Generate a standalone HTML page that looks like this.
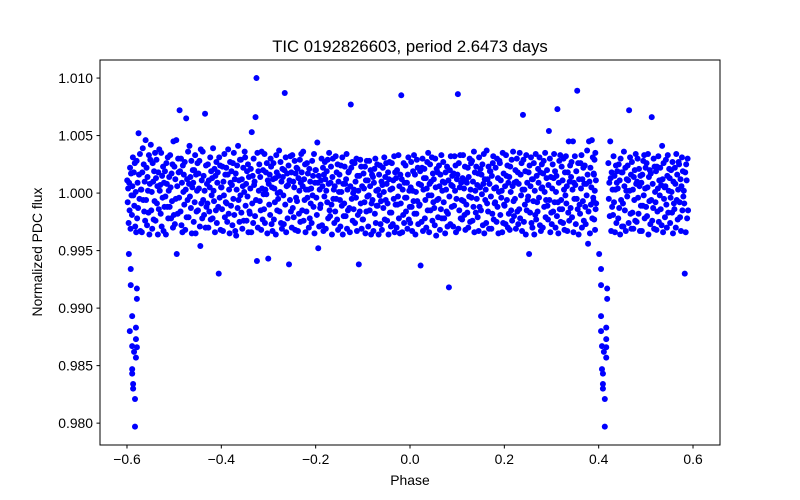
<!DOCTYPE html>
<html><head><meta charset="utf-8"><style>
html,body{margin:0;padding:0;background:#fff;}
svg{display:block;font-family:"Liberation Sans","DejaVu Sans",sans-serif;}
</style></head><body>
<svg id="chart" width="800" height="500" viewBox="0 0 800 500" xmlns="http://www.w3.org/2000/svg">
<rect x="0" y="0" width="800" height="500" fill="#fff"/>
<text x="410" y="52" text-anchor="middle" font-size="16.7" fill="#000">TIC 0192826603, period 2.6473 days</text>
<g id="points"></g>
<g id="xticks"></g>
<g id="yticks"></g>
<rect x="100" y="60" width="620" height="385" fill="none" stroke="#000" stroke-width="1"/>
<text x="410" y="485" text-anchor="middle" font-size="13.9" fill="#000">Phase</text>
<text x="0" y="0" transform="translate(42,252) rotate(-90)" text-anchor="middle" font-size="13.9" fill="#000">Normalized PDC flux</text>
</svg>
<script>
const xTicks = [-0.6,-0.4,-0.2,0.0,0.2,0.4,0.6];
const xTickLabels = ["\u22120.6","\u22120.4","\u22120.2","0.0","0.2","0.4","0.6"];
const yTicks = [0.980,0.985,0.990,0.995,1.000,1.005,1.010];
const yTickLabels = ["0.980","0.985","0.990","0.995","1.000","1.005","1.010"];
// phase bin centres (width 0.01)
const binPhase = [
-.595,-.585,-.575,-.565,-.555,-.545,-.535,-.525,-.515,-.505,
-.495,-.485,-.475,-.465,-.455,-.445,-.435,-.425,-.415,-.405,
-.395,-.385,-.375,-.365,-.355,-.345,-.335,-.325,-.315,-.305,
-.295,-.285,-.275,-.265,-.255,-.245,-.235,-.225,-.215,-.205,
-.195,-.185,-.175,-.165,-.155,-.145,-.135,-.125,-.115,-.105,
-.095,-.085,-.075,-.065,-.055,-.045,-.035,-.025,-.015,-.005,
.005,.015,.025,.035,.045,.055,.065,.075,.085,.095,
.105,.115,.125,.135,.145,.155,.165,.175,.185,.195,
.205,.215,.225,.235,.245,.255,.265,.275,.285,.295,
.305,.315,.325,.335,.345,.355,.365,.375,.385,.392,
.425,.435,.445,.455,.465,.475,.485,.495,.505,.515,
.525,.535,.545,.555,.565,.575,.585,.594
];
// flux deviation (parts per thousand) of points in each bin
const binFluxPpt = [
[1.1,-0.8,0.4,-2.6,0.9,-1.5,2.2,-3.1,1.7,-0.2],
[-1.9,0.6,3.1,-0.2,1.8,-1.1,2.6,-2.9,0.1,-3.4],
[2.8,-2.2,0.9,-1.3,5.2,1.6,-0.5,3.4,-3.3,0.3],
[0.3,-3.4,1.8,3.9,-0.6,2.5,-1.6,1.0,-2.4,4.6],
[-0.6,2.2,-2.8,1.4,0.2,-1.7,3.3,-3.6,0.8,2.9],
[4.2,-1.5,0.1,-3.1,2.6,1.0,-2.3,1.9,-0.7,3.5],
[-2.4,1.3,2.9,-0.9,0.6,-3.6,1.8,-1.4,3.8,0.2],
[0.7,-1.8,3.5,-2.9,1.5,-0.4,2.3,-3.3,0.9,-1.2],
[1.9,-0.3,-3.6,2.6,0.8,-1.2,3.1,-2.2,0.2,1.4],
[-1.2,3.3,0.5,-2.2,1.7,-0.7,2.5,-3.0,4.5,-1.9],
[2.3,-2.7,1.2,-0.5,4.6,-5.3,0.6,-1.8,3.0,1.8],
[-0.4,7.2,1.9,-1.6,3.0,-2.8,0.9,-3.4,2.4,0.1],
[1.6,-1.0,2.7,-3.2,0.3,6.5,-2.1,1.2,-0.6,3.6],
[-2.1,0.8,4.1,-0.3,1.4,-1.3,2.8,-3.5,0.5,2.0],
[0.9,-2.5,2.0,-0.8,3.3,-3.5,1.6,-1.6,0.2,2.6],
[-1.5,1.7,0.4,2.8,-2.9,-4.6,3.8,-0.9,1.1,-2.2],
[3.6,-0.6,1.5,-1.9,0.2,6.9,-3.0,2.4,-1.2,0.8],
[-0.9,2.5,-3.0,1.1,-1.6,0.5,3.1,-2.3,1.9,-0.2],
[1.3,-2.2,3.9,0.2,-0.7,2.1,-3.4,1.5,-1.5,2.7],
[-2.6,0.9,1.8,-1.2,-7.0,3.1,-0.4,2.4,-3.2,0.5],
[0.5,-1.4,2.3,-3.3,1.0,-0.2,3.4,-2.1,1.6,-0.8],
[2.2,-0.9,-2.5,1.6,3.8,-1.8,0.3,-3.5,2.7,0.9],
[-1.1,1.9,0.7,-2.8,2.6,-0.5,3.5,-1.9,1.2,-3.3],
[1.7,-3.7,0.3,2.4,-1.3,4.1,-0.6,1.1,-2.5,2.9],
[-0.2,2.9,-1.7,1.2,-3.1,0.6,2.2,-2.4,0.1,3.6],
[3.1,-1.1,0.8,-2.4,1.9,-0.3,2.5,-3.4,1.4,-1.6],
[-1.8,0.4,2.1,-3.4,5.3,-0.9,1.5,-2.6,3.0,0.7],
[1.0,-2.0,6.6,-0.6,10.0,-5.9,3.5,-3.0,1.9,0.2],
[2.5,-0.7,1.4,-1.5,-3.2,3.6,0.4,-2.3,2.0,-0.1],
[-1.4,3.4,-2.6,0.3,1.8,-0.1,2.6,-3.5,1.1,-5.7],
[0.8,-1.0,1.6,-1.9,3.0,2.3,-2.7,0.5,-3.3,1.2],
[2.6,-2.3,0.4,-0.8,1.3,-3.6,3.3,1.8,-1.5,0.0],
[-0.5,1.5,3.7,-1.6,0.1,2.7,-2.6,1.0,-3.1,2.1],
[1.4,-0.2,-2.7,2.0,8.7,-1.0,3.1,-3.4,0.6,1.7],
[-2.2,0.7,2.4,-6.2,1.1,-0.6,3.2,-1.6,1.8,-3.0],
[3.3,-1.3,1.0,-2.1,0.5,2.8,-3.2,1.7,-0.4,2.2],
[-0.7,2.1,-3.3,1.3,-1.8,0.2,2.9,-2.5,0.9,3.4],
[1.8,-1.5,0.6,3.6,-2.4,1.2,-0.6,2.5,-3.4,0.3],
[-1.6,2.6,-0.4,1.7,0.3,-3.0,2.1,-2.2,1.0,-0.9],
[0.4,-2.6,2.8,-0.2,1.5,-1.2,3.4,-3.5,0.9,2.0],
[2.0,-0.4,-1.9,4.4,0.9,-4.8,1.5,-2.9,0.3,-1.3],
[-1.0,1.1,3.0,-2.8,0.6,2.2,-3.3,1.6,-0.3,2.7],
[1.2,-3.1,0.2,1.9,-0.8,2.9,-2.2,0.8,3.5,-1.5],
[-2.0,0.9,2.3,-1.0,-3.6,1.4,3.0,-0.5,0.3,-2.6],
[0.6,-1.6,3.2,-0.5,1.8,-2.3,2.5,-3.2,1.0,0.1],
[1.6,-0.6,-2.9,2.4,0.1,-1.1,3.1,-3.6,0.8,-2.0],
[-0.9,2.3,0.8,-2.0,1.2,3.4,-3.1,0.3,-1.5,1.8],
[1.9,-1.3,-3.4,0.6,7.7,2.2,-0.5,2.7,-2.4,0.0],
[-1.4,0.3,2.6,-2.6,1.0,-0.4,3.0,-3.3,1.5,-1.9],
[0.2,-6.2,1.5,-1.6,2.9,-0.9,2.3,-3.1,0.6,-2.3],
[-2.3,1.7,0.4,-0.8,2.3,-3.5,1.1,-1.6,2.8,-0.3],
[1.1,-2.9,-0.2,2.8,-1.5,0.6,2.0,-3.6,-0.9,1.6],
[-0.6,1.4,-3.3,0.9,2.1,-1.8,3.0,-2.6,0.2,-1.1],
[2.5,-1.1,0.3,-3.6,1.6,-0.2,2.4,-2.7,-0.7,1.0],
[-3.2,0.7,2.2,-1.3,0.1,3.1,-2.3,1.4,-0.6,2.6],
[0.8,-2.4,-0.9,1.8,-3.6,1.2,2.7,-1.7,0.3,-2.9],
[-1.7,2.6,0.4,-2.7,1.1,-0.5,3.2,-3.4,1.8,-1.0],
[1.3,-3.0,2.0,-1.0,-0.3,3.3,-2.2,0.6,-3.5,1.6],
[-0.9,8.5,1.2,-3.4,0.3,-1.9,2.6,-2.6,0.9,-0.4],
[2.4,-1.6,-0.4,0.9,-3.1,1.6,3.1,-2.3,0.2,-1.2],
[-2.6,0.5,2.7,-1.2,-3.3,0.2,1.9,-0.7,3.3,-1.8],
[1.6,-3.6,0.1,-1.8,2.9,-0.7,2.2,-2.7,0.8,-1.1],
[-1.0,1.9,-6.3,0.7,-2.5,2.2,3.0,-3.3,0.3,1.3],
[2.1,-2.2,-0.6,1.3,-3.0,0.4,2.7,-1.5,3.5,-0.2],
[-3.4,0.8,2.5,-1.5,1.0,-0.2,3.1,-2.4,1.7,-0.8],
[1.2,-1.3,-2.8,3.0,0.5,-3.7,2.1,-0.6,1.8,-2.1],
[-0.5,2.4,0.6,-3.2,1.6,-1.4,3.3,-2.2,0.2,1.0],
[2.7,-0.8,-2.2,0.9,-3.5,1.8,0.3,-1.6,2.3,-2.9],
[-1.8,1.1,-8.2,-0.3,2.0,-2.7,3.2,0.7,-1.2,1.5],
[0.6,-2.9,1.7,-1.1,3.2,0.2,2.4,-3.4,-0.5,1.2],
[1.6,8.6,-3.1,2.6,-1.5,0.5,3.3,-2.2,0.9,-0.6],
[-2.3,1.3,3.3,-0.7,0.4,-1.9,2.3,-3.2,1.1,-1.0],
[0.9,-1.7,2.2,-3.0,1.4,-0.3,3.0,-2.5,0.3,2.6],
[-0.4,2.8,-2.4,1.0,-1.2,3.6,-3.4,1.8,0.2,-1.7],
[2.3,-0.5,0.7,-2.1,1.7,-3.3,3.1,-1.2,0.5,2.1],
[-1.5,1.6,-0.1,2.5,-2.8,0.8,3.4,-3.5,1.2,-0.6],
[0.3,-2.6,3.7,-0.9,1.2,-1.6,2.3,-3.1,0.8,1.9],
[1.9,-0.3,-3.1,1.5,-1.8,2.6,3.2,-2.3,0.4,-0.9],
[-0.8,2.2,0.5,-2.5,3.0,-1.2,1.3,-3.5,0.1,2.8],
[2.6,-1.9,1.1,-0.4,0.2,-3.4,3.5,-2.6,1.7,-1.0],
[-1.1,0.6,-2.7,3.3,1.5,-0.6,2.4,-3.0,0.9,-1.8],
[1.4,-3.2,2.3,0.1,-1.5,2.9,-2.4,0.6,3.6,-0.7],
[-2.0,0.9,-0.5,2.0,-3.1,1.0,3.0,-1.6,1.8,-2.7],
[0.8,-1.4,3.5,-2.2,1.6,-0.2,2.6,-3.3,0.3,6.8],
[2.9,-2.5,0.3,-1.0,1.9,-3.6,3.3,-1.5,0.9,-0.6],
[-0.3,1.8,-5.3,2.4,-1.7,0.6,3.1,-2.6,1.2,-3.0],
[1.2,-0.7,2.6,-3.6,0.2,-1.9,3.4,-2.3,1.5,-0.8],
[-1.6,2.1,0.9,-0.4,3.1,-2.8,1.8,-3.3,0.4,2.5],
[0.5,-3.0,1.7,2.8,-1.2,0.1,3.5,-2.1,-0.6,1.3],
[2.0,-1.1,-2.3,0.7,5.4,-0.6,3.0,-3.4,1.4,-1.7],
[-2.7,0.4,2.5,-1.6,1.3,3.4,-0.8,1.9,-3.0,0.1],
[1.5,-2.0,7.3,-0.8,-3.5,0.9,2.8,-1.4,3.3,-2.5],
[-0.6,2.3,-1.4,1.1,-2.6,3.0,0.3,-3.2,1.8,-0.2],
[3.2,-0.9,0.6,-3.3,1.8,-1.7,4.5,-2.4,1.0,2.4],
[-1.3,1.4,2.7,-2.1,0.3,4.5,-3.4,0.9,-0.5,3.2],
[0.7,-2.7,1.9,-0.5,8.9,-1.4,2.6,-3.6,1.2,-1.0],
[-1.8,2.6,0.4,3.3,-3.0,1.2,-0.7,2.2,-2.4,0.8],
[2.4,-1.2,-2.7,0.8,-0.2,3.7,1.6,-4.4,-1.6,4.5],
[1.0,-3.5,2.2,-1.0,0.5,4.6,-2.2,3.1,-0.4,1.7],
[-0.7,1.6,-2.3,2.9,0.2,-3.2,3.5,-1.4,1.1,-0.9],
[2.6,-0.5,0.9,-2.0,4.5,1.3,-3.3,1.8,-1.2,0.3],
[-1.9,3.2,-0.8,1.5,-3.4,0.3,2.4,-2.6,0.9,1.9],
[0.4,-2.2,2.5,-1.3,1.1,-3.6,3.0,-0.6,1.8,-2.9],
[1.8,-0.9,-2.9,3.6,0.6,-1.5,2.2,-3.3,0.2,1.2],
[-0.3,2.4,1.1,-2.6,7.2,0.2,3.1,-1.8,1.6,-3.1],
[2.7,-1.7,0.3,-3.1,1.4,-0.6,2.0,-2.4,3.4,0.8],
[-2.5,1.0,3.0,-0.4,-1.8,2.1,0.6,-3.3,1.5,-1.1],
[0.9,-3.3,1.6,-1.1,2.8,-0.2,3.3,-2.2,0.4,2.2],
[-1.2,2.6,-2.0,0.5,3.4,-3.6,1.4,-0.7,2.0,-2.7],
[1.7,-0.6,6.6,-2.4,0.8,-1.3,3.0,-3.1,2.3,0.1],
[-0.8,1.9,-3.2,2.3,-1.6,0.4,3.2,-2.5,1.1,-0.2],
[2.2,-1.4,0.7,-2.8,4.1,1.2,-3.4,2.6,-0.5,0.5],
[-2.1,0.6,2.9,-1.0,-3.0,1.5,3.3,-1.7,0.2,2.1],
[1.3,-2.6,-0.4,2.0,0.1,-1.7,2.7,-3.5,1.0,-0.9],
[-1.4,2.2,0.8,-3.0,3.4,-0.6,1.6,-2.3,0.3,2.7],
[2.5,-0.8,-2.1,1.2,-3.3,0.6,3.1,-1.5,1.9,-0.3],
[0.2,-0.9,-7.0,1.8,-3.4,2.5,1.1,-2.2,3.0,-1.5]
];
// transit dip points (phase and flux deviation, ppt)
const dipPhase = [-.596,-.592,-.592,-.579,-.579,-.589,-.581,-.594,-.581,-.589,-.579,-.585,-.581,-.589,-.589,-.587,-.587,-.583,-.583,
.401,.405,.405,.418,.418,.405,.416,.405,.416,.407,.416,.411,.416,.407,.409,.409,.409,.413,.413];
const dipFluxPpt = [-5.3,-6.6,-8.0,-8.3,-9.2,-10.7,-11.7,-12.0,-12.7,-13.3,-13.4,-13.8,-14.3,-15.3,-15.7,-16.6,-17.0,-17.9,-20.3,
-5.3,-6.6,-8.0,-8.3,-9.2,-10.7,-11.7,-12.0,-12.7,-13.3,-13.4,-13.8,-14.3,-15.3,-15.7,-16.6,-17.0,-17.9,-20.3];

const NS = "http://www.w3.org/2000/svg";
const X0 = 100, X1 = 720, Y0 = 60, Y1 = 445;
const xMin = -0.6572, xMax = 0.6572;
const yMin = 0.97810, yMax = 1.01157;
const BIN_WIDTH = 0.01;
function xScale(v){ return X0 + (v - xMin) / (xMax - xMin) * (X1 - X0); }
function yScale(v){ return Y1 - (v - yMin) / (yMax - yMin) * (Y1 - Y0); }
function fluxOf(ppt){ return 1 + ppt / 1000; }

const gp = document.getElementById('points');
function addPoint(p, f){
  const c = document.createElementNS(NS, 'circle');
  c.setAttribute('cx', xScale(p).toFixed(2));
  c.setAttribute('cy', yScale(fluxOf(f)).toFixed(2));
  c.setAttribute('r', '3');
  c.setAttribute('fill', '#0000ff');
  
  
  gp.appendChild(c);
}
for (let i = 0; i < binPhase.length; i++) {
  const vals = binFluxPpt[i] || [];
  const w = (i === binPhase.length - 1 || binPhase[i] === 0.392) ? 0.006 : BIN_WIDTH;
  for (let j = 0; j < vals.length; j++) {
    const p = binPhase[i] - w / 2 + (j + 0.5) / vals.length * w;
    addPoint(p, vals[j]);
  }
}
for (let i = 0; i < Math.min(dipPhase.length, dipFluxPpt.length); i++) addPoint(dipPhase[i], dipFluxPpt[i]);

const gx = document.getElementById('xticks');
xTicks.forEach((t, i) => {
  const x = xScale(t);
  const l = document.createElementNS(NS, 'line');
  l.setAttribute('x1', x); l.setAttribute('x2', x);
  l.setAttribute('y1', Y1); l.setAttribute('y2', Y1 + 3.5);
  l.setAttribute('stroke', '#000');
  
  
  gx.appendChild(l);
  const tx = document.createElementNS(NS, 'text');
  tx.setAttribute('x', x); tx.setAttribute('y', Y1 + 19);
  tx.setAttribute('text-anchor', 'middle');
  tx.setAttribute('font-size', '13.9');
  tx.textContent = xTickLabels[i];
  
  
  gx.appendChild(tx);
});
const gy = document.getElementById('yticks');
yTicks.forEach((t, i) => {
  const y = yScale(t);
  const l = document.createElementNS(NS, 'line');
  l.setAttribute('x1', X0 - 3.5); l.setAttribute('x2', X0);
  l.setAttribute('y1', y); l.setAttribute('y2', y);
  l.setAttribute('stroke', '#000');
  
  
  gy.appendChild(l);
  const tx = document.createElementNS(NS, 'text');
  tx.setAttribute('x', X0 - 7); tx.setAttribute('y', y + 5);
  tx.setAttribute('text-anchor', 'end');
  tx.setAttribute('font-size', '13.9');
  tx.textContent = yTickLabels[i];
  
  
  gy.appendChild(tx);
});
</script>
</body></html>
